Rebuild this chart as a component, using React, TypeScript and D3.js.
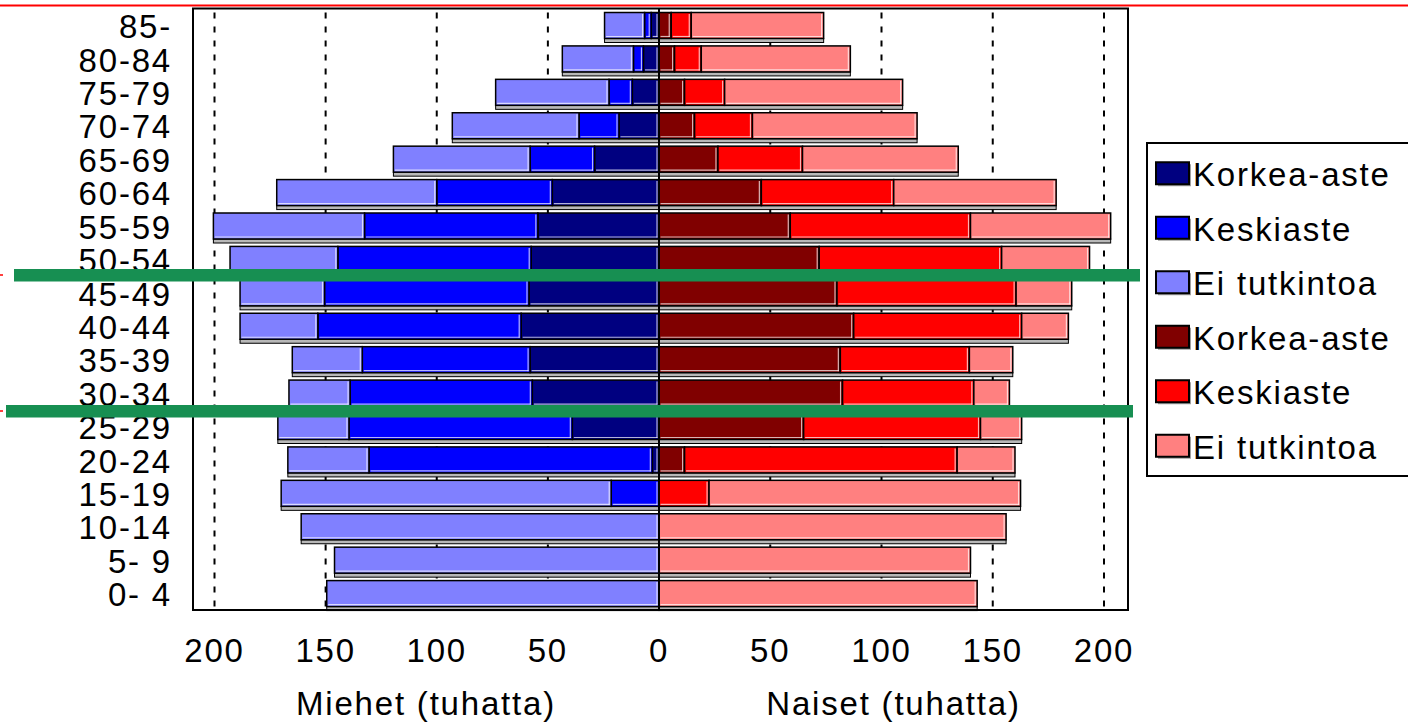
import React from "react";
import * as d3 from "d3";

const ageGroups = [
  "85-", "80-84", "75-79", "70-74", "65-69", "60-64", "55-59", "50-54", "45-49",
  "40-44", "35-39", "30-34", "25-29", "20-24", "15-19", "10-14", "5- 9", "0- 4",
];

// Miehet (thousands), from the zero line outwards
const maleKorkea = [3.5, 7, 12, 18, 29, 48, 54.5, 57.5, 58.5, 62, 58, 57, 39, 3, 0, 0, 0, 0];
const maleKeski = [3, 4.5, 10.5, 18, 29, 52, 78, 87, 92, 91.5, 75.5, 82, 100.5, 127.5, 21.5, 0, 0, 0];
const maleEi = [18, 32, 51, 57, 61.5, 72, 68, 48.5, 38, 35, 31.5, 27.5, 32, 36.5, 148.5, 161, 146, 149.5];

// Naiset (thousands)
const femaleKorkea = [5.5, 7, 11.5, 16, 26.5, 46, 59, 72, 80, 87.5, 81.5, 82.5, 65, 11.5, 0, 0, 0, 0];
const femaleKeski = [9, 12, 18, 26, 38, 59.5, 81, 82, 80.5, 75.5, 58, 59, 79.5, 122.5, 22.5, 0, 0, 0];
const femaleEi = [59.5, 67, 80, 74, 70, 73, 63, 39.5, 25, 21, 19.5, 16, 18.5, 26, 140, 156, 140, 143];

const ticks = [0, 50, 100, 150, 200];

const legendItems = [
  { label: "Korkea-aste", color: "#000080" },
  { label: "Keskiaste", color: "#0000ff" },
  { label: "Ei tutkintoa", color: "#8080ff" },
  { label: "Korkea-aste", color: "#800000" },
  { label: "Keskiaste", color: "#ff0000" },
  { label: "Ei tutkintoa", color: "#ff8080" },
];

const maleSeries = [
  { values: maleKorkea, color: "#000080" },
  { values: maleKeski, color: "#0000ff" },
  { values: maleEi, color: "#8080ff" },
];
const femaleSeries = [
  { values: femaleKorkea, color: "#800000" },
  { values: femaleKeski, color: "#ff0000" },
  { values: femaleEi, color: "#ff8080" },
];

const W = 1408;
const H = 723;
const frame = { left: 193, right: 1128, top: 8.5, bottom: 610 };
const zeroX = 659;
const font = "'Liberation Sans', Arial, sans-serif";

export default function App() {
  const xRight = d3.scaleLinear().domain([0, 200]).range([zeroX, 1104]);
  const xLeft = d3.scaleLinear().domain([0, 200]).range([zeroX, 214.5]);
  const y = d3.scaleBand().domain(ageGroups).range([frame.top + 1, frame.bottom + 1]).padding(0);
  const barH = 26;
  const legendY = d3.scaleBand().domain(d3.range(legendItems.length).map(String)).range([147, 474]);

  const textStyle = { fontFamily: font, fontSize: 33, letterSpacing: 1.8, fill: "#000" };

  const side = (series, x, sign) =>
    ageGroups.map((g, i) => {
      const y0 = y(g) + 3;
      let acc = 0;
      const segs = series.map((s) => {
        const a = acc;
        acc += s.values[i];
        return { a, b: acc, color: s.color, v: s.values[i] };
      });
      const total = acc;
      const xa = Math.min(x(0), x(total));
      const xb = Math.max(x(0), x(total));
      return (
        <g key={g + sign}>
          <rect x={xa} y={y0 + barH} width={xb - xa} height={4} fill="#b8b8b8" stroke="#000" strokeWidth={1} />
          {segs
            .filter((s) => s.v > 0)
            .map((s, k) => {
              const x1 = Math.min(x(s.a), x(s.b));
              const x2 = Math.max(x(s.a), x(s.b));
              return (
                <g key={k}>
                  <rect x={x1} y={y0} width={x2 - x1} height={barH} fill={s.color} stroke="#000" strokeWidth={1.5} />
                  <line x1={x1 + 1.5} x2={x2 - 1.5} y1={y0 + barH - 2} y2={y0 + barH - 2} stroke="#fff" strokeWidth={1.2} opacity={0.7} />
                  <line x1={sign > 0 ? x2 - 2 : x2 - 2} x2={sign > 0 ? x2 - 2 : x2 - 2} y1={y0 + 1.5} y2={y0 + barH - 1.5} stroke="#fff" strokeWidth={1.2} opacity={0.7} />
                </g>
              );
            })}
        </g>
      );
    });

  return (
    <svg width={W} height={H} style={{ position: "absolute", left: 0, top: 0, background: "#fff" }}>
      <rect x={0} y={0} width={W} height={H} fill="#fff" />
      {/* top red rule */}
      <line x1={0} x2={W} y1={5.5} y2={5.5} stroke="#ff0000" strokeWidth={2} />

      {/* dashed grid */}
      {ticks.filter((t) => t > 0).map((t) => (
        <g key={"g" + t}>
          <line x1={xLeft(t)} x2={xLeft(t)} y1={frame.top + 4} y2={frame.bottom} stroke="#000" strokeWidth={2} strokeDasharray="6 8" />
          <line x1={xRight(t)} x2={xRight(t)} y1={frame.top + 4} y2={frame.bottom} stroke="#000" strokeWidth={2} strokeDasharray="6 8" />
        </g>
      ))}

      {side(maleSeries, xLeft, -1)}
      {side(femaleSeries, xRight, 1)}

      {/* zero line */}
      <line x1={zeroX} x2={zeroX} y1={frame.top} y2={frame.bottom} stroke="#000" strokeWidth={2} />

      {/* frame */}
      <rect x={frame.left} y={frame.top} width={frame.right - frame.left} height={frame.bottom - frame.top} fill="none" stroke="#000" strokeWidth={2} />

      {/* age labels */}
      {ageGroups.map((g) => (
        <text key={g} x={172} y={y(g) + y.bandwidth() / 2 + 12} textAnchor="end" style={{ ...textStyle, whiteSpace: "pre" }} xmlSpace="preserve">
          {g}
        </text>
      ))}

      {/* x tick labels */}
      {ticks.map((t) => (
        <text key={"l" + t} x={xLeft(t)} y={662} textAnchor="middle" style={textStyle}>{t}</text>
      ))}
      {ticks.filter((t) => t > 0).map((t) => (
        <text key={"r" + t} x={xRight(t)} y={662} textAnchor="middle" style={textStyle}>{t}</text>
      ))}

      {/* axis titles */}
      <text x={(frame.left + zeroX) / 2} y={715} textAnchor="middle" style={textStyle}>Miehet (tuhatta)</text>
      <text x={(zeroX + frame.right) / 2} y={715} textAnchor="middle" style={textStyle}>Naiset (tuhatta)</text>

      {/* legend */}
      <rect x={1147} y={143} width={300} height={333} fill="#fff" stroke="#000" strokeWidth={2} />
      {legendItems.map((it, i) => {
        const cy = legendY(String(i)) + legendY.bandwidth() / 2;
        return (
          <g key={"lg" + i}>
            <rect x={1158} y={cy - 10} width={33} height={22} fill="#a0a0a0" />
            <rect x={1156} y={cy - 12} width={33} height={22} fill={it.color} stroke="#000" strokeWidth={2} />
            <text x={1193} y={cy + 12} style={textStyle}>{it.label}</text>
          </g>
        );
      })}

      {/* green annotation bands */}
      <rect x={14} y={269} width={1126} height={12.5} fill="#178f52" />
      <rect x={6} y={405} width={1127} height={12.5} fill="#178f52" />
      <line x1={0} x2={3} y1={275} y2={275} stroke="#ff0000" strokeWidth={1.5} />
      <line x1={0} x2={3} y1={411} y2={411} stroke="#ff0000" strokeWidth={1.5} />
    </svg>
  );
}
